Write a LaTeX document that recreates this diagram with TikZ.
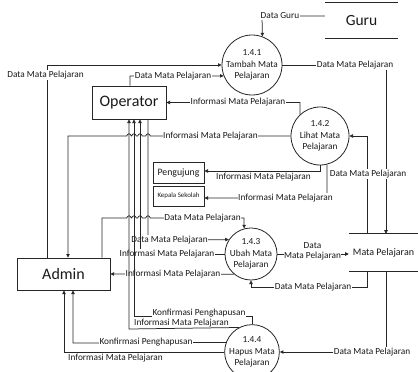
\documentclass[tikz,border=0pt]{standalone}
\usepackage{fontspec}
\setmainfont{Carlito}
\usetikzlibrary{arrows.meta,calc}

\begin{document}
\begin{tikzpicture}[x=1pt,y=-1pt,
  >={Triangle[length=3.6pt,width=3.4pt]},
  flow/.style={draw=black!85,line width=0.75pt},
  lbl/.style={font=\fontsize{9.3}{11}\selectfont,fill=white,inner sep=0.6pt,text=black!90},
  lblclear/.style={lbl,fill=none},
  proc/.style={circle,draw=black!85,line width=0.8pt,minimum size=#1,inner sep=0pt,
    align=center,font=\fontsize{9.3}{11.5}\selectfont,text=black!90},
  ent/.style={draw=black!85,line width=0.8pt,inner sep=0pt,text=black!90},
  storebox/.style={inner sep=0pt,text=black!90},
  storeline/.style={draw=black!85,line width=0.9pt},
]
\useasboundingbox (0,0) rectangle (418,372);

% processes
\node[proc=60pt] (c141) at (252,65) {1.4.1\\Tambah Mata\\Pelajaran};
\node[proc=58pt] (c142) at (320,136) {1.4.2\\Lihat Mata\\Pelajaran};
\node[proc=52pt] (c143) at (251,254) {1.4.3\\Ubah Mata\\Pelajaran};
\node[proc=52pt] (c144) at (252,352) {1.4.4\\Hapus Mata\\Pelajaran};

% external entities
\node[ent,minimum width=74pt,minimum height=33pt,font=\fontsize{16}{18}\selectfont] (op) at (129,102.5) {Operator};
\node[ent,minimum width=93pt,minimum height=32pt,font=\fontsize{16}{18}\selectfont] (adm) at (63.5,274) {Admin};
\node[ent,minimum width=51pt,minimum height=21pt,font=\fontsize{9.8}{11}\selectfont] (peng) at (178.5,172.5) {Pengujung};
\node[ent,minimum width=51pt,minimum height=20pt,font=\fontsize{6.9}{8}\selectfont] (kep) at (178.5,196) {Kepala Sekolah};

% data stores
\node[storebox,minimum width=73pt,minimum height=35pt,font=\fontsize{15.5}{17}\selectfont] (guru) at (361.5,20.5) {Guru};
\draw[storeline] (guru.north west) -- (guru.north east) (guru.south west) -- (guru.south east);
\node[storebox,minimum width=69pt,minimum height=37pt,font=\fontsize{10}{12}\selectfont] (mp) at (383.5,252.5) {Mata Pelajaran};
\draw[storeline] (mp.north west) -- (mp.north east) (mp.south west) -- (mp.south east);

% Guru -> 1.4.1
\draw[flow,->] ([yshift=4.5pt]guru.west) -- (262,16) -- (c141.70.5);
\node[lbl] (lguru) at (280,16) {Data Guru};

% 1.4.1 -> Mata Pelajaran
\draw[flow,->] (c141.east) -- (386,65) -- (mp.north -| 386,0);
\node[lbl] (l1) at (355,65) {Data Mata Pelajaran};

% Admin -> 1.4.1
\draw[flow,->] (adm.north -| 47,0) -- (47,65) -- (c141.west);
\node[lbl] (l2) at (45.5,75) {Data Mata Pelajaran};

% Operator -> 1.4.1
\draw[flow,->] (op.north -| 130,0) -- (130,76) -- (c141.201.5);
\node[lbl] (l3) at (173,76) {Data Mata Pelajaran};

% 1.4.2 -> Operator
\draw[flow,->] (c142.133.6) -- (300,102.5) -- (op.east);
\node[lbl] (l4) at (238,102.5) {Informasi Mata Pelajaran};

% 1.4.2 -> Admin (hopping over the operator lines)
\draw[flow,->] (c142.west) -- (150.2,136) arc[start angle=0,end angle=180,radius=2.2pt]
  -- (142.2,136) arc[start angle=0,end angle=180,radius=2.2pt]
  -- (136.2,136) arc[start angle=0,end angle=180,radius=2.2pt]
  -- (131.2,136) arc[start angle=0,end angle=180,radius=2.2pt]
  -- (68,136) -- (adm.north -| 68,0);
\node[lbl] (l5) at (210.5,136) {Informasi Mata Pelajaran};

% Mata Pelajaran -> 1.4.2
\draw[flow,->] (mp.north -| 367,0) -- (367,136) -- (c142.east);
\node[lbl] (l6) at (368,174) {Data Mata Pelajaran};

% 1.4.2 -> Pengujung
\draw[flow,->] (c142.south) -- (320,171) -- (peng.east |- 0,171);
\node[lblclear] (l7) at (263.5,177.5) {Informasi Mata Pelajaran};

% 1.4.2 -> Kepala Sekolah
\draw[flow,->] (c142.284) -- (327,198) -- (kep.east |- 0,198);
\node[lbl] (l8) at (285.5,198) {Informasi Mata Pelajaran};

% Admin -> 1.4.3 (hopping over the operator lines)
\draw[flow,->] (adm.north -| 102,0) -- (102,218)
  -- (126.8,218) arc[start angle=180,end angle=0,radius=2.2pt]
  -- (131.8,218) arc[start angle=180,end angle=0,radius=2.2pt]
  -- (137.8,218) arc[start angle=180,end angle=0,radius=2.2pt]
  -- (145.8,218) arc[start angle=180,end angle=0,radius=2.2pt]
  -- (244,218) -- (c143.105.6);
\node[lbl] (l9) at (202.5,218) {Data Mata Pelajaran};

% Operator -> 1.4.3
\draw[flow,->] (op.south -| 148,0) -- (148,240) -- (c143.147.4);
\node[lbl] (l10) at (169.5,240) {Data Mata Pelajaran};

% 1.4.3 -> Operator
\draw[flow,->] (c143.west) -- (140,254) -- (op.south -| 140,0);
\node[lbl] (l11) at (167,254) {Informasi Mata Pelajaran};

% 1.4.3 -> Admin
\draw[flow,->] (c143.230.3) -- (adm.east);
\node[lbl] (l12) at (173,274) {Informasi Mata Pelajaran};

% 1.4.3 -> Mata Pelajaran
\draw[flow,->] (c143.east) -- (c143.east -| mp.west);
\node[lbl,align=center,font=\fontsize{9.3}{10.5}\selectfont] (l13) at (312.5,251.5) {Data\\Mata Pelajaran};

% Mata Pelajaran -> 1.4.3
\draw[flow,->] (mp.south -| 367,0) -- (367,287) -- (251,287) -- (c143.south);
\node[lbl] (l14) at (313,287) {Data Mata Pelajaran};

% Mata Pelajaran -> 1.4.4
\draw[flow,->] (mp.south -| 386,0) -- (386,352) -- (c144.east);
\node[lbl] (l15) at (372,352) {Data Mata Pelajaran};

% 1.4.4 -> Operator
\draw[flow,->] (c144.north) -- (252,316) -- (134,316) -- (op.south -| 134,0);
\node[lbl] (l16) at (199,313) {Konfirmasi Penghapusan};
\draw[flow,->] (c144.118) -- (129,329) -- (op.south -| 129,0);
\node[lblclear] (l17) at (181.5,323.5) {Informasi Mata Pelajaran};

% 1.4.4 -> Admin
\draw[flow,->] (c144.160) -- (73,343) -- (adm.south -| 73,0);
\node[lbl] (l18) at (146,342.5) {Konfirmasi Penghapusan};
\draw[flow,->] (c144.west) -- (64,352) -- (adm.south -| 64,0);
\node[lblclear] (l19) at (115.5,358.5) {Informasi Mata Pelajaran};
\end{tikzpicture}
\end{document}
